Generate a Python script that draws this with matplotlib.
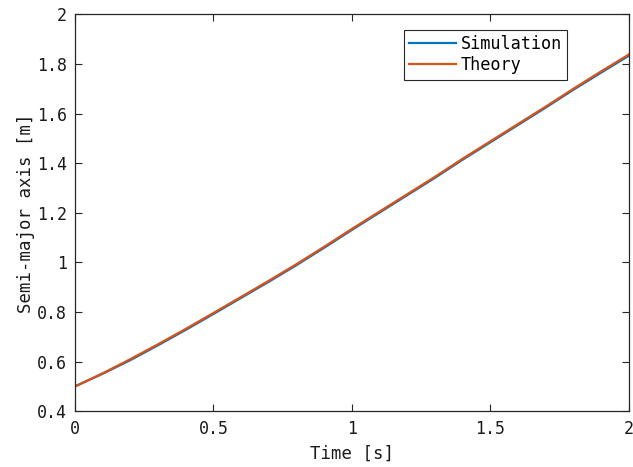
import matplotlib
matplotlib.use("Agg")
import matplotlib.pyplot as plt
import numpy as np

time_s = [0.0, 0.1, 0.2, 0.3, 0.4, 0.5, 0.6, 0.7, 0.8, 0.9, 1.0,
          1.1, 1.2, 1.3, 1.4, 1.5, 1.6, 1.7, 1.8, 1.9, 2.0]
theory = [0.500, 0.553, 0.610, 0.670, 0.732, 0.796, 0.861, 0.926, 0.993, 1.063, 1.135,
          1.205, 1.275, 1.345, 1.418, 1.488, 1.558, 1.628, 1.700, 1.770, 1.838]
simulation = [0.500, 0.551, 0.606, 0.666, 0.728, 0.792, 0.857, 0.922, 0.989, 1.059, 1.131,
              1.201, 1.271, 1.341, 1.414, 1.484, 1.554, 1.624, 1.696, 1.765, 1.833]
xticks = [0, 0.5, 1, 1.5, 2]
xticklabels = ["0", "0.5", "1", "1.5", "2"]
yticks = [0.4, 0.6, 0.8, 1.0, 1.2, 1.4, 1.6, 1.8, 2.0]
yticklabels = ["0.4", "0.6", "0.8", "1", "1.2", "1.4", "1.6", "1.8", "2"]

plt.rcParams['font.family'] = ['DejaVu Sans Mono']
axcol = '#262626'

fig = plt.figure(figsize=(6.33, 4.67), dpi=100)
ax = fig.add_axes([0.1185, 0.1195, 0.8745, 0.8495])
ax.plot(time_s, simulation, color='#0072BD', lw=1.6, label='Simulation')
ax.plot(time_s, theory, color='#D95319', lw=1.6, label='Theory')
ax.set_xlim(0, 2)
ax.set_ylim(0.4, 2)
ax.set_xticks(xticks)
ax.set_xticklabels(xticklabels)
ax.set_yticks(yticks)
ax.set_yticklabels(yticklabels)
ax.tick_params(direction='in', top=True, right=True, length=5, width=0.8,
               colors=axcol, labelsize=12, labelcolor='#1a1a1a', pad=6)
for s in ax.spines.values():
    s.set_color(axcol)
    s.set_linewidth(0.9)
ax.set_xlabel('Time [s]', fontsize=12.5, color='#1a1a1a', labelpad=5)
ax.set_ylabel('Semi-major axis [m]', fontsize=12.5, color='#1a1a1a', labelpad=1)
leg = ax.legend(loc='upper left', bbox_to_anchor=(0.594, 0.961), borderaxespad=0,
                fancybox=False, edgecolor=axcol, fontsize=12.2, handlelength=2.75,
                handletextpad=0.3, borderpad=0.3, labelspacing=0.2, framealpha=1)
leg.get_frame().set_linewidth(0.8)
fig.savefig('out.png', dpi=100)
